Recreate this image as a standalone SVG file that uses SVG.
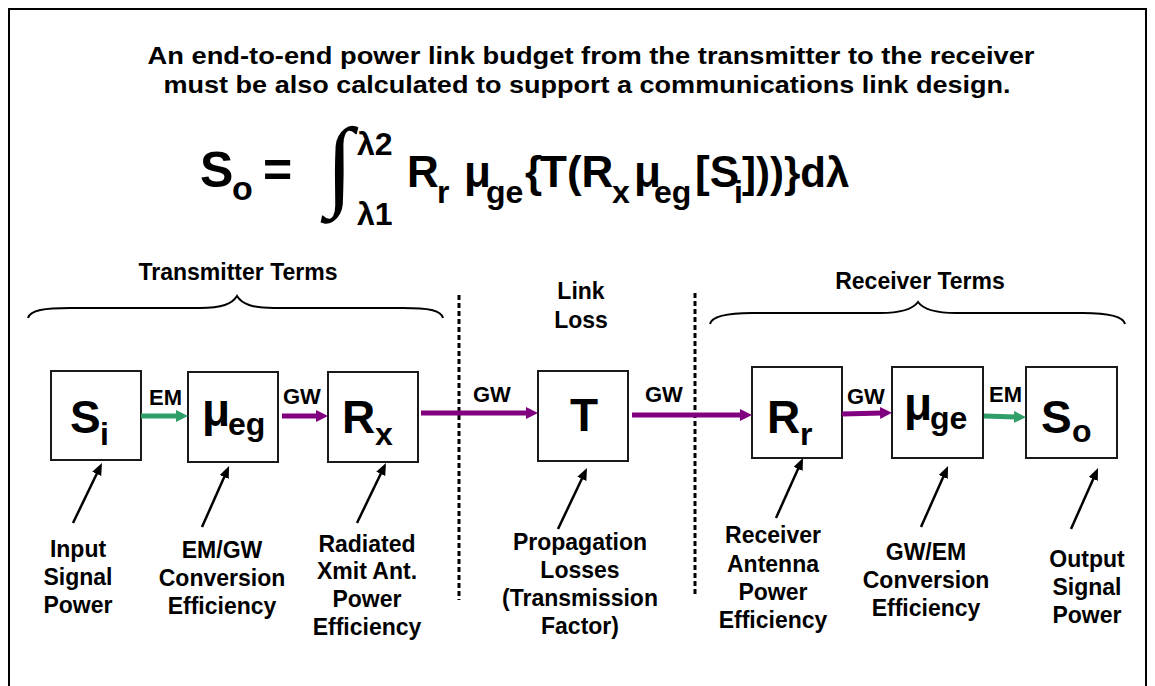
<svg xmlns="http://www.w3.org/2000/svg" width="1155" height="686" viewBox="0 0 1155 686">
<style>
text{font-family:"Liberation Sans",Arial,sans-serif;font-weight:bold;fill:#000}
.box{fill:#fff;stroke:#1a1a1a;stroke-width:2}
.big{font-size:46px}
.sub{font-size:32px}
.lbl{font-size:23px;text-anchor:middle}
.tag{font-size:22px}
.em{stroke:#2f9e68;stroke-width:5;fill:none}
.gw{stroke:#800080;stroke-width:5;fill:none}
.ptr{stroke:#000;stroke-width:2.5;fill:none}
.dash{stroke:#000;stroke-width:3;stroke-dasharray:5 3;fill:none}
.brace{stroke:#000;stroke-width:2;fill:none}
</style>
<defs>
<marker id="hG" markerUnits="userSpaceOnUse" markerWidth="14" markerHeight="14" refX="2" refY="6" orient="auto"><path d="M0,0 L12,6 L0,12 z" fill="#2f9e68"/></marker>
<marker id="hP" markerUnits="userSpaceOnUse" markerWidth="14" markerHeight="14" refX="2" refY="6" orient="auto"><path d="M0,0 L12,6 L0,12 z" fill="#800080"/></marker>
<marker id="hK" markerUnits="userSpaceOnUse" markerWidth="14" markerHeight="12" refX="2" refY="5" orient="auto"><path d="M0,0 L12,5 L0,10 z" fill="#000"/></marker>
</defs>
<rect width="1155" height="686" fill="#fff"/>
<path d="M9,700 V9 H1146 V700" fill="none" stroke="#000" stroke-width="2"/>

<g id="title">
<text x="591" y="64" font-size="24" text-anchor="middle" textLength="887" lengthAdjust="spacingAndGlyphs">An end-to-end power link budget from the transmitter to the receiver</text>
<text x="587" y="93" font-size="24" text-anchor="middle" textLength="847" lengthAdjust="spacingAndGlyphs">must be also calculated to support a communications link design.</text>
</g>

<g id="formula">
<text x="200" y="187" font-size="50">S</text>
<text x="232" y="200" font-size="34">o</text>
<text x="263" y="187" font-size="50">=</text>
<text x="326" y="197" font-size="100" style="font-family:'Liberation Serif',serif;font-weight:normal">∫</text>
<text x="357" y="155" font-size="32">λ2</text>
<text x="357" y="225" font-size="32">λ1</text>
<text y="187" font-size="44"><tspan x="407">R</tspan><tspan x="437" dy="16" font-size="32">r</tspan><tspan x="464" dy="-16">μ</tspan><tspan x="486" dy="16" font-size="32">ge</tspan><tspan x="525" dy="-16">{</tspan><tspan x="540">T(R</tspan><tspan x="612" dy="16" font-size="32">x</tspan><tspan x="634" dy="-16">μ</tspan><tspan x="654" dy="16" font-size="32">eg</tspan><tspan x="695" dy="-16">[S</tspan><tspan x="734" dy="16" font-size="32">i</tspan><tspan x="742" dy="-16" font-size="42">]))}dλ</tspan></text>
</g>

<g id="sections">
<text x="238" y="280" font-size="23" text-anchor="middle">Transmitter Terms</text>
<path class="brace" d="M28,318 C30,310 45,308 70,308 L200,308 C222,308 232,304 237,296 C242,304 252,308 274,308 L403,308 C428,308 441,310 443,318"/>
<text x="920" y="289" font-size="23" text-anchor="middle">Receiver Terms</text>
<path class="brace" d="M710,324 C712,316 727,313 752,313 L880,313 C903,313 913,309 918,302 C923,309 933,313 956,313 L1083,313 C1108,313 1123,316 1125,324"/>
<text x="581" y="299" font-size="23" text-anchor="middle">Link</text>
<text x="581" y="328" font-size="23" text-anchor="middle">Loss</text>
<line class="dash" x1="459" y1="295" x2="459" y2="600"/>
<line class="dash" x1="695" y1="293" x2="695" y2="597"/>
</g>

<g id="node-Si">
<rect class="box" x="51" y="371" width="90" height="89"/>
<text x="70" y="433" class="big">S</text><text x="100" y="445" class="sub">i</text>
</g>
<g id="node-mueg">
<rect class="box" x="188" y="372" width="90" height="90"/>
<text x="202" y="426" class="big">μ</text><text x="228" y="435" class="sub">eg</text>
</g>
<g id="node-Rx">
<rect class="box" x="328" y="372" width="90" height="90"/>
<text x="342" y="433" class="big">R</text><text x="375" y="445" class="sub">x</text>
</g>
<g id="node-T">
<rect class="box" x="538" y="371" width="90" height="90"/>
<text x="584" y="431" class="big" text-anchor="middle">T</text>
</g>
<g id="node-Rr">
<rect class="box" x="752" y="367" width="90" height="91"/>
<text x="767" y="433" class="big">R</text><text x="800" y="445" class="sub">r</text>
</g>
<g id="node-muge">
<rect class="box" x="892" y="367" width="91" height="91"/>
<text x="904" y="420" class="big">μ</text><text x="930" y="429" class="sub">ge</text>
</g>
<g id="node-So">
<rect class="box" x="1026" y="367" width="91" height="91"/>
<text x="1041" y="433" class="big">S</text><text x="1072" y="442" class="sub">o</text>
</g>

<g id="connectors">
<line class="em" x1="141" y1="416" x2="178" y2="416" marker-end="url(#hG)"/>
<line class="gw" x1="282" y1="416" x2="318" y2="416" marker-end="url(#hP)"/>
<line class="gw" x1="421" y1="413" x2="528" y2="413" marker-end="url(#hP)"/>
<line class="gw" x1="632" y1="415" x2="742" y2="415" marker-end="url(#hP)"/>
<line class="gw" x1="842" y1="414" x2="882" y2="413" marker-end="url(#hP)"/>
<line class="em" x1="984" y1="416" x2="1016" y2="417" marker-end="url(#hG)"/>
<text x="149" y="405" class="tag">EM</text>
<text x="283" y="404" class="tag">GW</text>
<text x="473" y="402" class="tag">GW</text>
<text x="645" y="402" class="tag">GW</text>
<text x="847" y="404" class="tag">GW</text>
<text x="989" y="402" class="tag">EM</text>
</g>

<g id="pointers">
<line class="ptr" x1="73" y1="523" x2="97.6" y2="472" marker-end="url(#hK)"/>
<line class="ptr" x1="202" y1="527" x2="225" y2="475.2" marker-end="url(#hK)"/>
<line class="ptr" x1="357" y1="523" x2="381.6" y2="472" marker-end="url(#hK)"/>
<line class="ptr" x1="558" y1="529" x2="582.7" y2="477" marker-end="url(#hK)"/>
<line class="ptr" x1="776" y1="518" x2="798.9" y2="467.1" marker-end="url(#hK)"/>
<line class="ptr" x1="921" y1="527" x2="944" y2="475.2" marker-end="url(#hK)"/>
<line class="ptr" x1="1071" y1="529" x2="1094" y2="477.2" marker-end="url(#hK)"/>
</g>

<g id="labels">
<text class="lbl" x="78" y="557">Input</text>
<text class="lbl" x="78" y="585">Signal</text>
<text class="lbl" x="78" y="613">Power</text>
<text class="lbl" x="222" y="558">EM/GW</text>
<text class="lbl" x="222" y="586">Conversion</text>
<text class="lbl" x="222" y="614">Efficiency</text>
<text class="lbl" x="367" y="552">Radiated</text>
<text class="lbl" x="367" y="579">Xmit Ant.</text>
<text class="lbl" x="367" y="607">Power</text>
<text class="lbl" x="367" y="635">Efficiency</text>
<text class="lbl" x="580" y="550">Propagation</text>
<text class="lbl" x="580" y="578">Losses</text>
<text class="lbl" x="580" y="606">(Transmission</text>
<text class="lbl" x="580" y="634">Factor)</text>
<text class="lbl" x="773" y="543">Receiver</text>
<text class="lbl" x="773" y="572">Antenna</text>
<text class="lbl" x="773" y="600">Power</text>
<text class="lbl" x="773" y="628">Efficiency</text>
<text class="lbl" x="926" y="560">GW/EM</text>
<text class="lbl" x="926" y="588">Conversion</text>
<text class="lbl" x="926" y="616">Efficiency</text>
<text class="lbl" x="1087" y="567">Output</text>
<text class="lbl" x="1087" y="595">Signal</text>
<text class="lbl" x="1087" y="623">Power</text>
</g>
</svg>
